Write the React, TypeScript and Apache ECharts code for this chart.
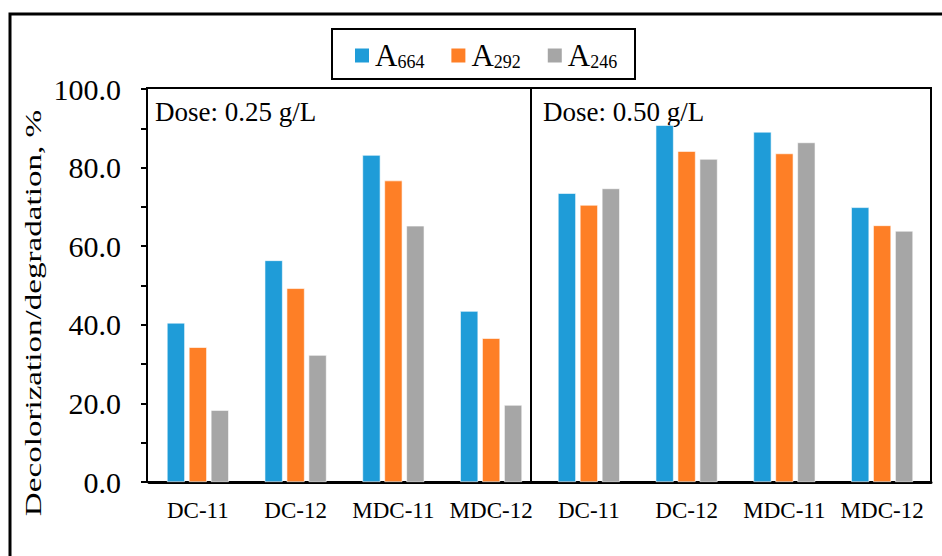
import React, { useEffect, useRef } from "react";
import * as echarts from "echarts";

const categories = ["DC-11", "DC-12", "MDC-11", "MDC-12", "DC-11", "DC-12", "MDC-11", "MDC-12"];
const seriesNames = ["A664", "A292", "A246"];
const a664 = [40.5, 56.4, 83.2, 43.5, 73.5, 90.8, 89.1, 69.9];
const a292 = [34.3, 49.3, 76.7, 36.6, 70.5, 84.2, 83.6, 65.3];
const a246 = [18.3, 32.3, 65.2, 19.6, 74.7, 82.2, 86.4, 63.9];
const colors = ["#1f9cd8", "#fe7f26", "#a6a6a6"];
const doseLabels = ["Dose: 0.25 g/L", "Dose: 0.50 g/L"];
const yTitle = "Decolorization/degradation, %";

const FONT = "Liberation Serif";

export default function App() {
  const ref = useRef<HTMLDivElement>(null);
  useEffect(() => {
    if (!ref.current) return;
    const chart = echarts.init(ref.current, null, { renderer: "svg" });
    const values = [a664, a292, a246];
    chart.setOption({
      animation: false,
      backgroundColor: "#fff",
      textStyle: { fontFamily: FONT },
      grid: { left: 149, right: 11, top: 89, bottom: 74 },
      legend: {
        left: 348,
        top: 35,
        itemWidth: 16,
        itemHeight: 16,
        itemGap: 25,
        icon: "rect",
        data: seriesNames,
        formatter: (name: string) => `{a|${name.slice(0, 1)}}{s|${name.slice(1)}}`,
        textStyle: {
          fontFamily: FONT,
          fontSize: 30,
          rich: {
            a: { fontSize: 31, fontFamily: FONT, color: "#000" },
            s: { fontSize: 18, fontFamily: FONT, color: "#000", verticalAlign: "bottom" },
          },
        },
      },
      xAxis: {
        type: "category",
        data: categories,
        axisLine: { show: true, lineStyle: { color: "#000", width: 3 } },
        axisTick: { show: false },
        axisLabel: { color: "#000", fontSize: 23, fontFamily: FONT, margin: 17, interval: 0 },
      },
      yAxis: {
        type: "value",
        min: 0,
        max: 100,
        interval: 20,
        offset: 2,
        axisLine: { show: true, lineStyle: { color: "#000", width: 2 } },
        axisTick: { show: true, inside: false, length: 6, lineStyle: { color: "#000", width: 2 } },
        minorTick: { show: true, splitNumber: 2, length: 6, lineStyle: { color: "#000", width: 2 } },
        splitLine: { show: false },
        axisLabel: {
          color: "#000",
          fontSize: 30,
          fontFamily: FONT,
          margin: 26,
          formatter: (v: number) => v.toFixed(1),
        },
      },
      series: seriesNames.map((name, i) => ({
        name,
        type: "bar",
        data: values[i],
        barWidth: 18,
        barGap: "22%",
        itemStyle: { color: colors[i], borderColor: "#ffffff", borderWidth: 0.6 },
      })),
      graphic: [
        {
          type: "rect",
          shape: { x: 10, y: 14, width: 1000, height: 700 },
          style: { fill: "none", stroke: "#000", lineWidth: 3 },
          silent: true,
        },
        {
          type: "rect",
          shape: { x: 332, y: 29, width: 303, height: 50 },
          style: { fill: "none", stroke: "#000", lineWidth: 2 },
          silent: true,
        },
        {
          type: "rect",
          shape: { x: 147, y: 88, width: 384, height: 394 },
          style: { fill: "none", stroke: "#000", lineWidth: 2 },
          silent: true,
        },
        {
          type: "rect",
          shape: { x: 531, y: 88, width: 400, height: 394 },
          style: { fill: "none", stroke: "#000", lineWidth: 2 },
          silent: true,
        },
        {
          type: "text",
          x: 155,
          y: 112,
          style: { text: doseLabels[0], fontSize: 27, fontFamily: FONT, fill: "#000", verticalAlign: "middle" },
          silent: true,
        },
        {
          type: "text",
          x: 543,
          y: 112,
          style: { text: doseLabels[1], fontSize: 27, fontFamily: FONT, fill: "#000", verticalAlign: "middle" },
          silent: true,
        },
        {
          type: "text",
          x: 33,
          y: 313,
          rotation: Math.PI / 2,
          scaleX: 1.44,
          style: {
            text: yTitle,
            fontSize: 23,
            fontFamily: FONT,
            fill: "#000",
            align: "center",
            verticalAlign: "middle",
          },
          silent: true,
        },
      ],
    });
    return () => chart.dispose();
  }, []);
  return <div ref={ref} style={{ width: 942, height: 556, position: "absolute", left: 0, top: 0 }} />;
}
